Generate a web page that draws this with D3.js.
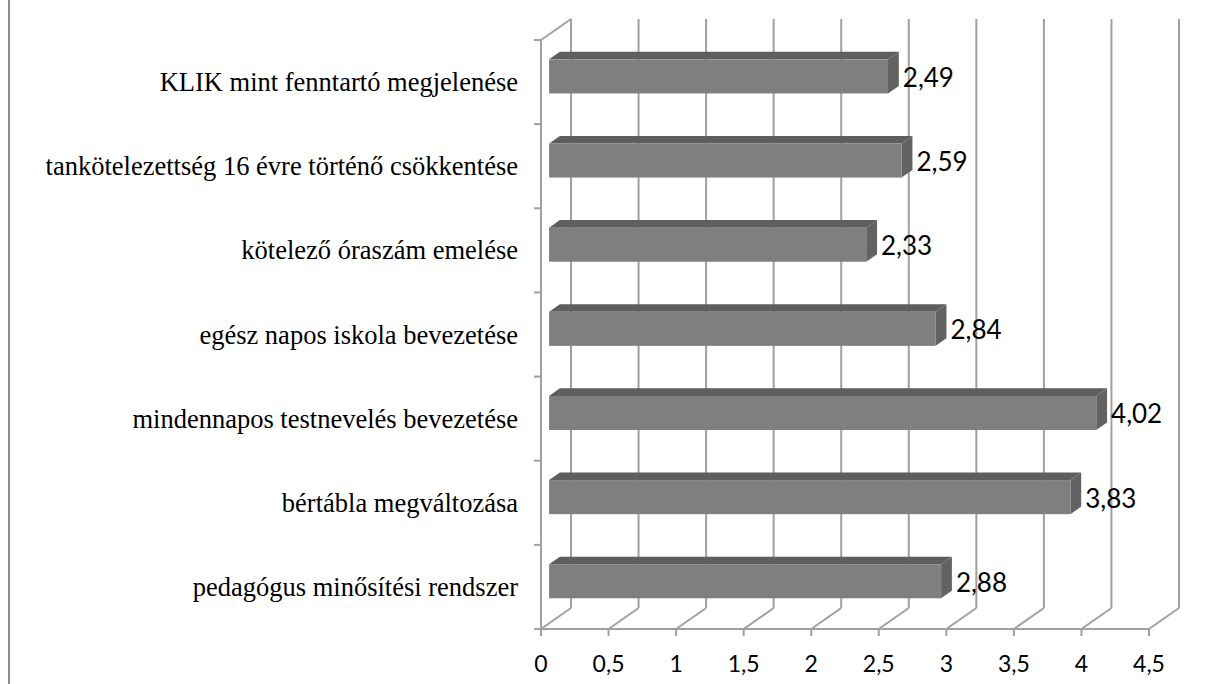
<!DOCTYPE html>
<html>
<head>
<meta charset="utf-8">
<script src="https://cdn.jsdelivr.net/npm/d3@7"></script>
<style>
  body { margin: 0; background: #fff; }
  svg { display: block; }
  .grid { stroke: #a0a0a0; stroke-width: 2; fill: none; }
  .cat { font-family: "Liberation Serif", "Times New Roman", serif; font-size: 26.5px; fill: #000; }
  .num { font-family: Lato, Carlito, Calibri, sans-serif; fill: #000; }
</style>
</head>
<body>
<script>
// categories from bottom to top
const categories = [
  "pedagógus minősítési rendszer",
  "bértábla megváltozása",
  "mindennapos testnevelés bevezetése",
  "egész napos iskola bevezetése",
  "kötelező óraszám emelése",
  "tankötelezettség 16 évre történő csökkentése",
  "KLIK mint fenntartó megjelenése"
];
const values = [2.88, 3.83, 4.02, 2.84, 2.33, 2.59, 2.49];
const xTicks = [0, 0.5, 1, 1.5, 2, 2.5, 3, 3.5, 4, 4.5];

const width = 1227,
      height = 684;

// depth of the 3d box
const dx = 30, dy = -21;
const barFront = 0.27, barBack = 0.63;

const locale = d3.formatLocale({decimal: ",", thousands: " ", grouping: [3], currency: ["", ""]});
const fmt = locale.format(",.2f"),
      fmtTick = v => String(v).replace(".", ",");

const x = d3.scaleLinear().domain([0, 4.5]).range([541, 1149]);
const xBar = d3.scaleLinear().domain([0, 4.5]).range([0, 612.5]);
const y = d3.scaleBand().domain(categories).range([629, 40]).padding(0);

const svg = d3.select("body")
              .append("svg")
              .attr("width", width)
              .attr("height", height);

// outer frame, left edge
svg.append("line")
   .attr("x1", 9).attr("x2", 9).attr("y1", 0).attr("y2", height)
   .attr("stroke", "#8a8a8a").attr("stroke-width", 2);

const y0 = y.range()[0], yTop = y.range()[1];

// back wall gridlines
svg.append("g")
   .selectAll("line")
   .data(xTicks)
   .enter()
   .append("line")
   .attr("class", "grid")
   .attr("x1", d => x(d) + dx).attr("x2", d => x(d) + dx)
   .attr("y1", y0 + dy).attr("y2", yTop + dy);

// floor
svg.append("g")
   .selectAll("line")
   .data(xTicks)
   .enter()
   .append("line")
   .attr("class", "grid")
   .attr("x1", d => x(d)).attr("x2", d => x(d) + dx)
   .attr("y1", y0).attr("y2", y0 + dy);

svg.append("line").attr("class", "grid")
   .attr("x1", x(0)).attr("x2", x(4.5)).attr("y1", y0).attr("y2", y0);

svg.append("g")
   .selectAll("line")
   .data(xTicks)
   .enter()
   .append("line")
   .attr("class", "grid")
   .attr("x1", d => x(d)).attr("x2", d => x(d))
   .attr("y1", y0).attr("y2", y0 + 7);

// side wall
svg.append("line").attr("class", "grid")
   .attr("x1", x(0)).attr("x2", x(0)).attr("y1", y0 + 1).attr("y2", yTop);
svg.append("line").attr("class", "grid")
   .attr("x1", x(0)).attr("x2", x(0) + dx).attr("y1", yTop).attr("y2", yTop + dy);

const bounds = categories.map(c => y(c) + y.bandwidth()).concat([yTop]);
svg.append("g")
   .selectAll("line")
   .data(bounds)
   .enter()
   .append("line")
   .attr("class", "grid")
   .attr("x1", x(0) - 7).attr("x2", x(0))
   .attr("y1", d => d).attr("y2", d => d);

// bars
const bh = y.bandwidth() * 0.405;
const fx = dx * barFront, fy = dy * barFront,
      bx = dx * barBack, by = dy * barBack;

const bars = svg.append("g")
                .selectAll("g")
                .data(categories)
                .enter()
                .append("g");

bars.each(function(c, i) {
    const g = d3.select(this);
    const cy = y(c) + y.bandwidth() / 2;
    const left = x(0) + fx,
          right = left + xBar(values[i]),
          top = cy + fy - bh / 2,
          bottom = top + bh,
          ox = bx - fx, oy = by - fy;

    g.append("path")
     .attr("d", `M${left},${top}L${left + ox},${top + oy}L${right + ox},${top + oy}L${right},${top}Z`)
     .attr("fill", "#5e5e5e");
    g.append("path")
     .attr("d", `M${right},${top}L${right + ox},${top + oy}L${right + ox},${bottom + oy}L${right},${bottom}Z`)
     .attr("fill", "#626262");
    g.append("rect")
     .attr("x", left).attr("y", top)
     .attr("width", right - left).attr("height", bh)
     .attr("fill", "#7f7f7f");

    g.append("text")
     .attr("class", "num")
     .attr("x", right + ox + 4)
     .attr("y", cy + fy + 10.5)
     .style("font-size", "26px")
     .text(fmt(values[i]));
});

// category labels
svg.append("g")
   .selectAll("text")
   .data(categories)
   .enter()
   .append("text")
   .attr("class", "cat")
   .attr("text-anchor", "end")
   .attr("x", 518)
   .attr("y", d => y(d) + y.bandwidth() / 2 + 9)
   .text(d => d);

// x tick labels
svg.append("g")
   .selectAll("text")
   .data(xTicks)
   .enter()
   .append("text")
   .attr("class", "num")
   .attr("text-anchor", "middle")
   .attr("x", d => x(d))
   .attr("y", 672)
   .style("font-size", "23px")
   .text(fmtTick);
</script>
</body>
</html>
